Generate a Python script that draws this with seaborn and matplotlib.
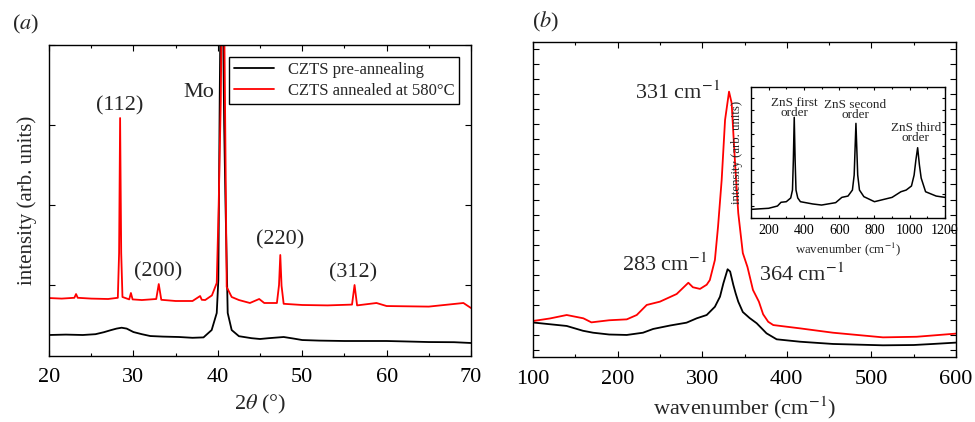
import numpy as np
import pandas as pd
import matplotlib
matplotlib.use('Agg')
import matplotlib.pyplot as plt
import seaborn as sns
from matplotlib.ticker import MultipleLocator, NullFormatter

# XRD (a) - 2theta y cuentas
xrd_x_pre = [20, 22, 24, 25.5, 26.5, 27.3, 28.0, 28.6, 29.2, 30, 31, 32, 33.5, 35.4, 37, 38.3,
             39.27, 39.87, 40.06, 40.22, 40.45, 40.75, 40.9, 41.17, 41.64, 42.5, 44, 45, 46,
             47.8, 49, 50, 52, 55, 58, 60, 62, 65, 68, 70]
xrd_y_pre = [375, 380, 375, 385, 410, 435, 455, 466, 455, 412, 385, 362, 355, 350, 340, 345,
             437, 650, 1062, 3300, 6000, 3000, 2062, 650, 437, 360, 335, 325, 335,
             350, 330, 312, 305, 300, 300, 300, 295, 287, 285, 275]

xrd_x_ann = [20, 21.5, 23.0, 23.2, 23.4, 25, 27, 28.15, 28.3, 28.42, 28.55, 28.7, 29.5, 29.7,
             29.9, 31, 32.7, 33.0, 33.3, 35, 37, 37.9, 38.1, 38.5, 39.3, 39.87, 40.1, 40.35,
             40.6, 40.85, 41.05, 41.64, 42.5, 43.8, 44.9, 45.5, 47.0, 47.25, 47.4, 47.55, 47.8,
             50, 53, 55.9, 56.2, 56.5, 58.8, 60, 65, 69.1, 70]
xrd_y_ann = [837, 830, 840, 887, 840, 830, 825, 840, 1400, 3087, 1400, 850, 820, 900,
             820, 812, 825, 1012, 815, 800, 800, 862, 815, 812, 870, 1025, 2000, 3300,
             6000, 3300, 975, 850, 812, 775, 825, 775, 775, 1000, 1375, 990, 765,
             750, 745, 755, 1000, 745, 775, 737, 730, 775, 712]

# Raman (b)
ram_x_pre = [100, 139.8, 159, 171, 190, 210.8, 230, 242, 262, 281.5, 293.5, 305.3, 315, 321,
             325, 330, 333, 336.8, 339.5, 342.6, 348, 356, 364.4, 376, 388, 415.6, 454.6,
             513.7, 550, 572.8, 600]
ram_y_pre = [180, 157, 125, 112, 100, 97, 112, 137, 160, 179, 208, 230, 285, 352,
             441, 535, 520, 430, 375, 319, 250, 210, 175, 108, 68, 52, 37,
             28, 30, 37, 46]

ram_x_ann = [100, 120, 139.8, 159.5, 169, 190, 210.8, 222.6, 234.4, 250, 269.8, 283.6, 289,
             297.4, 305.3, 309, 315, 318.7, 323, 327, 331.7, 334.8, 338.8, 342.6, 348, 353.5,
             360, 367, 372, 378, 384, 415.6, 454.6, 513.7, 553.5, 600]
ram_y_ann = [190, 207, 230, 208, 181, 195, 201, 230, 297, 319, 370, 445, 415,
             404, 432, 463, 597, 819, 1130, 1530, 1719, 1643, 1243, 910, 643, 550,
             397, 319, 235, 185, 163, 141, 112, 81, 85, 106]

# Inset ZnS
ins_x = [100, 200, 250, 270, 300, 325, 335, 340, 345, 350, 355, 365, 380, 450, 500, 580,
         615, 650, 675, 685, 695, 705, 715, 740, 800, 900, 950, 980, 1010, 1025, 1035, 1045,
         1055, 1065, 1090, 1150, 1200]
ins_y = [72, 81, 100, 131, 136, 167, 233, 483, 839, 483, 233, 167, 136, 117, 108, 128,
         172, 183, 233, 358, 789, 358, 233, 178, 136, 172, 219, 233, 267, 358, 483, 586,
         442, 333, 219, 183, 172]

sns.set_theme(style='ticks')
plt.rcParams['font.family'] = ['serif']
plt.rcParams['font.serif'] = ['Liberation Serif', 'DejaVu Serif']
plt.rcParams['mathtext.fontset'] = 'stix'
plt.rcParams['axes.linewidth'] = 1.0
plt.rcParams['xtick.direction'] = 'in'
plt.rcParams['ytick.direction'] = 'in'

fig = plt.figure(figsize=(9.75, 4.22), dpi=100)
ax1 = fig.add_axes([0.0503, 0.1564, 0.4328, 0.7370])
ax2 = fig.add_axes([0.5467, 0.1540, 0.4338, 0.7465])
axi = fig.add_axes([0.7703, 0.4834, 0.1989, 0.3104])

def estilo(ax, xmaj, xmin, ymaj, fs, pad):
    ax.xaxis.set_major_locator(MultipleLocator(xmaj))
    ax.xaxis.set_minor_locator(MultipleLocator(xmin))
    ax.yaxis.set_major_locator(MultipleLocator(ymaj))
    ax.yaxis.set_major_formatter(NullFormatter())
    ax.tick_params(which='both', top=True, right=True, direction='in', labelsize=fs,
                   colors='black', width=0.8)
    ax.tick_params(axis='x', which='major', pad=pad)
    ax.tick_params(which='major', length=4)
    ax.tick_params(which='minor', length=2.5)
    for s in ax.spines.values():
        s.set_color('black')

#%% (a) XRD
df_pre = pd.DataFrame({'x': xrd_x_pre, 'y': xrd_y_pre})
df_ann = pd.DataFrame({'x': xrd_x_ann, 'y': xrd_y_ann})
sns.lineplot(data=df_pre, x='x', y='y', color='black', lw=1.3, ax=ax1, estimator=None,
             sort=False, label='CZTS pre-annealing')
sns.lineplot(data=df_ann, x='x', y='y', color='#ff0000', lw=1.3, ax=ax1, estimator=None,
             sort=False, label='CZTS annealed at 580°C')
ax1.set_xlim(20, 70)
ax1.set_ylim(112.5, 4000)
estilo(ax1, 10, 5, 1000, 16, 9)
ax1.set_xlabel(r'2$\theta$ (°)', fontsize=16, labelpad=4)
ax1.set_ylabel('intensity (arb. units)', fontsize=15, labelpad=5)
ax1.legend(loc='upper right', fontsize=12, frameon=True, fancybox=False, edgecolor='black',
           framealpha=1, borderaxespad=0.7, handlelength=2.4, borderpad=0.3,
           labelspacing=0.3).get_frame().set_linewidth(1.0)
for txt, x, y in [('(112)', 28.4, 3237), ('Mo', 37.8, 3400), ('(200)', 32.9, 1162),
                  ('(220)', 47.4, 1562), ('(312)', 56.0, 1150)]:
    ax1.text(x, y, txt, fontsize=16, ha='center', va='center')

#%% (b) Raman
dr_pre = pd.DataFrame({'x': ram_x_pre, 'y': ram_y_pre})
dr_ann = pd.DataFrame({'x': ram_x_ann, 'y': ram_y_ann})
sns.lineplot(data=dr_pre, x='x', y='y', color='black', lw=1.3, ax=ax2, estimator=None, sort=False)
sns.lineplot(data=dr_ann, x='x', y='y', color='#ff0000', lw=1.3, ax=ax2, estimator=None, sort=False)
ax2.set_xlim(100, 600)
ax2.set_ylim(-50, 2050)
estilo(ax2, 100, 50, 100, 16, 9)
ax2.set_xlabel(r'wavenumber (cm$^{-1}$)', fontsize=16, labelpad=4)
ax2.set_ylabel('')
for txt, x, y in [(r'331 cm$^{-1}$', 271, 1710), (r'283 cm$^{-1}$', 255, 563),
                  (r'364 cm$^{-1}$', 417, 497)]:
    ax2.text(x, y, txt, fontsize=16, ha='center', va='center')

#%% inset
di = pd.DataFrame({'x': ins_x, 'y': ins_y})
sns.lineplot(data=di, x='x', y='y', color='black', lw=1.1, ax=axi, estimator=None, sort=False)
axi.set_xlim(100, 1200)
axi.set_ylim(0, 1092)
estilo(axi, 200, 100, 100, 10, 4)
axi.tick_params(which='major', length=2.5)
axi.tick_params(which='minor', length=1.5)
axi.set_xlabel(r'wavenumber (cm$^{-1}$)', fontsize=9.2, labelpad=3)
axi.set_ylabel('intensity (arb. units)', fontsize=9.2, labelpad=2)
for txt, x, y in [('ZnS first\norder', 344, 917), ('ZnS second\norder', 690, 900),
                  ('ZnS third\norder', 1034, 708)]:
    axi.text(x, y, txt, fontsize=9.5, ha='center', va='center', linespacing=0.85)

fig.text(0.012, 0.943, r'($a$)', fontsize=16, va='center', ha='left')
fig.text(0.546, 0.948, r'($b$)', fontsize=16, va='center', ha='left')

plt.savefig('out.png', dpi=100)
